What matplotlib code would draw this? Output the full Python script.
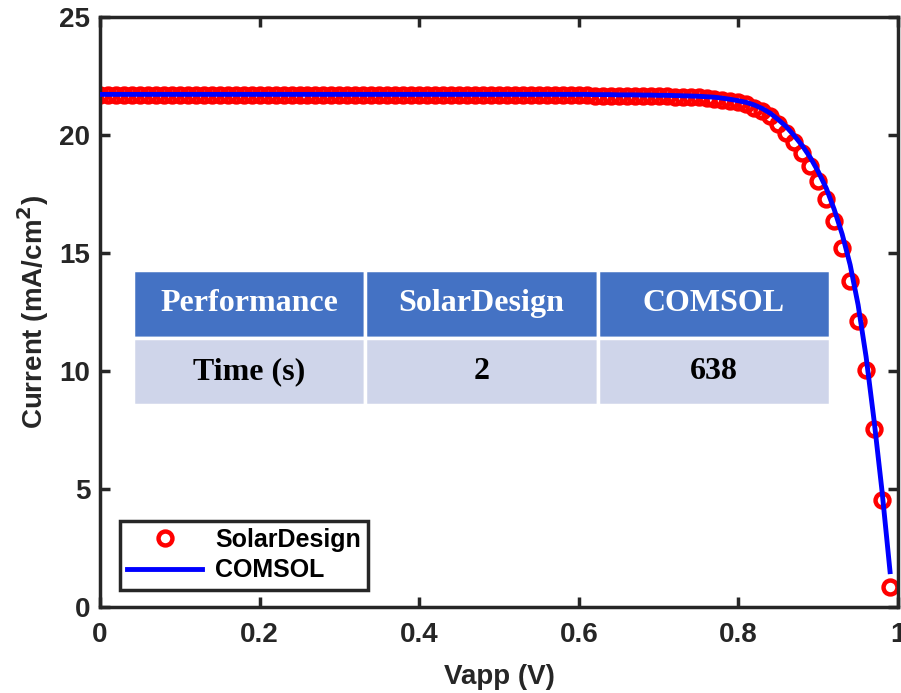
import numpy as np
import matplotlib.pyplot as plt

# J-V curve, SolarDesign (markers) vs COMSOL (line)
vapp = [round(0.01 * i, 2) for i in range(100)]

solar_design = [21.68] * 60 + [
    21.68, 21.68, 21.67, 21.67, 21.67, 21.66, 21.66, 21.66, 21.65, 21.65,   # 0.60-0.69
    21.64, 21.64, 21.63, 21.62, 21.61, 21.60, 21.57, 21.54, 21.50, 21.45,   # 0.70-0.79
    21.38, 21.30, 21.15, 21.00, 20.80, 20.45, 20.10, 19.70, 19.25, 18.70,   # 0.80-0.89
    18.05, 17.30, 16.35, 15.20, 13.80, 12.10, 10.05, 7.55, 4.55, 0.85,      # 0.90-0.99
]

comsol = [21.72] * 60 + [
    21.72, 21.72, 21.71, 21.71, 21.71, 21.70, 21.70, 21.70, 21.69, 21.69,   # 0.60-0.69
    21.68, 21.68, 21.67, 21.66, 21.65, 21.64, 21.62, 21.60, 21.56, 21.51,   # 0.70-0.79
    21.45, 21.38, 21.27, 21.12, 20.92, 20.65, 20.35, 19.97, 19.55, 19.05,   # 0.80-0.89
    18.45, 17.75, 16.85, 15.80, 14.50, 12.80, 10.60, 7.90, 4.90, 1.50,      # 0.90-0.99
]

table_cols = ["Performance", "SolarDesign", "COMSOL"]
table_rows = [["Time (s)", "2", "638"]]

x_ticks = [0, 0.2, 0.4, 0.6, 0.8, 1]
x_labels = ["0", "0.2", "0.4", "0.6", "0.8", "1"]
y_ticks = [0, 5, 10, 15, 20, 25]

plt.rcParams['font.family'] = ['Liberation Sans', 'DejaVu Sans']
plt.rcParams['font.weight'] = 'bold'

fig = plt.figure(figsize=(9.01, 6.93), dpi=100)
ax = fig.add_axes([0.111, 0.124, 0.8857, 0.8515])

ax.plot(vapp, solar_design, 'o', color='red', markerfacecolor='none',
        markersize=10, markeredgewidth=3.2, label='SolarDesign', zorder=2)
ax.plot(vapp, comsol, '-', color='blue', linewidth=3.5, label='COMSOL', zorder=3)

ax.set_xlim(0, 1)
ax.set_ylim(0, 25)
ax.set_xticks(x_ticks)
ax.set_xticklabels(x_labels)
ax.set_yticks(y_ticks)

frame = '#262626'
for s in ax.spines.values():
    s.set_linewidth(2.5)
    s.set_color(frame)
ax.tick_params(direction='in', length=7, width=2.5, colors=frame, labelsize=20,
               top=True, right=True, pad=7)
ax.tick_params(axis='x', pad=10.5)
for lbl in ax.get_xticklabels() + ax.get_yticklabels():
    lbl.set_fontweight('bold')

ax.set_xlabel('Vapp (V)', fontsize=20, fontweight='bold', color=frame, labelpad=12)
ax.set_ylabel('Current (mA/cm$^\\mathbf{2}$)', fontsize=20, fontweight='bold',
              color=frame, labelpad=6)

leg = ax.legend(loc='lower left', bbox_to_anchor=(0.025, 0.029), borderaxespad=0,
                fancybox=False, framealpha=1, edgecolor=frame,
                prop={'weight': 'bold', 'size': 18}, handlelength=3.0,
                borderpad=0.3, labelspacing=0.25, handletextpad=0.5)
leg.get_frame().set_linewidth(2.5)

tbl = ax.table(cellText=table_rows, colLabels=table_cols, cellLoc='center',
               bbox=[0.041, 0.342, 0.874, 0.229])
tbl.auto_set_font_size(False)
for (r, c), cell in tbl.get_celld().items():
    cell.set_edgecolor('white')
    cell.set_linewidth(2.5)
    txt = cell.get_text()
    txt.set_fontfamily(['Liberation Serif', 'DejaVu Serif'])
    txt.set_fontweight('bold')
    txt.set_fontsize(23)
    if r == 0:
        cell.set_facecolor('#4472C4')
        txt.set_color('white')
    else:
        cell.set_facecolor('#CFD5EA')
        txt.set_color('black')
tbl.set_zorder(4)

fig.savefig('out.png', dpi=100)
